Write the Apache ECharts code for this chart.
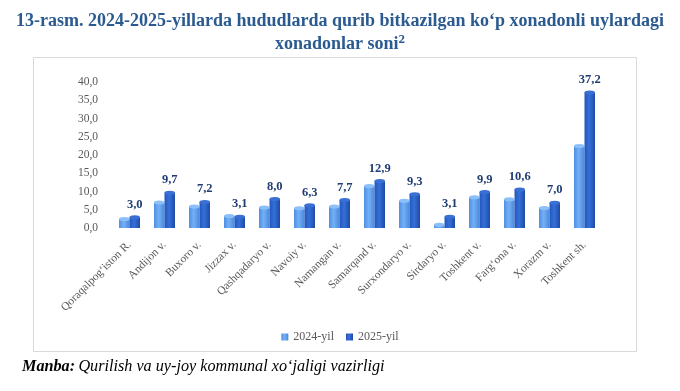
<!DOCTYPE html>
<html>
<head>
<meta charset="utf-8">
<script src="https://cdn.jsdelivr.net/npm/echarts@6/dist/echarts.min.js"></script>
<style>html,body{margin:0;padding:0;background:#fff;}#c{width:680px;height:391px;}</style>
</head>
<body>
<div id="c"></div>
<script>
const categories = ["Qoraqalpog‘iston R.", "Andijon v.", "Buxoro v.", "Jizzax v.", "Qashqadaryo v.", "Navoiy v.", "Namangan v.", "Samarqand v.", "Surxondaryo v.", "Sirdaryo v.", "Toshkent v.", "Farg‘ona v.", "Xorazm v.", "Toshkent sh."];
const v2024 = [2.5, 7.0, 5.9, 3.3, 5.6, 5.4, 5.9, 11.5, 7.5, 0.9, 8.4, 7.9, 5.5, 22.5];
const v2025 = [3.0, 9.7, 7.2, 3.1, 8.0, 6.3, 7.7, 12.9, 9.3, 3.1, 9.9, 10.6, 7.0, 37.2];
const seriesNames = ["2024-yil", "2025-yil"];
const titleLine1 = "13-rasm. 2024-2025-yillarda hududlarda qurib bitkazilgan ko‘p xonadonli uylardagi";
const titleLine2 = "xonadonlar soni";
const sourceLabel = "Manba:";
const sourceText = "Qurilish va uy-joy kommunal xo‘jaligi vazirligi";

const serif = '"Liberation Serif", "DejaVu Serif", serif';
const fmt = v => v.toFixed(1).replace('.', ',');

function cyl(c1, c2, c3) {
  return new echarts.graphic.LinearGradient(0, 0, 1, 0, [
    {offset: 0, color: c1}, {offset: 0.45, color: c2}, {offset: 1, color: c3}
  ]);
}
const col24 = cyl('#4f8fe0', '#74b0f7', '#4a88da');
const col25 = cyl('#2456bd', '#3470d8', '#1f4aa6');

const chart = echarts.init(document.getElementById('c'), null, {renderer: 'canvas'});
const BW = 10.5;
chart.setOption({
  animation: false,
  backgroundColor: '#fff',
  title: {
    text: titleLine1 + '\n' + titleLine2 + '{sup|2}',
    left: 'center',
    top: 5,
    textStyle: {
      fontFamily: serif, fontWeight: 'bold', fontSize: 18, color: '#2a5a90', lineHeight: 23,
      rich: { sup: { fontFamily: serif, fontWeight: 'bold', fontSize: 13, color: '#2a5a90', verticalAlign: 'top', lineHeight: 23, padding: [0, 0, 5, 0] } }
    }
  },
  graphic: [
    { type: 'rect', shape: {x: 33.5, y: 57.5, width: 603, height: 294}, style: {fill: 'none', stroke: '#d9d9d9', lineWidth: 1}, z: -1 },
    { type: 'text', left: 22, top: 359, style: {
        text: '{b|' + sourceLabel + '} {i|' + sourceText + '}',
        rich: {
          b: { fontFamily: serif, fontWeight: 'bold', fontStyle: 'italic', fontSize: 16.2, fill: '#000' },
          i: { fontFamily: serif, fontStyle: 'italic', fontSize: 16.2, fill: '#000' }
        }
      } }
  ],
  legend: {
    data: seriesNames,
    top: 326, left: 'center',
    icon: 'rect', itemWidth: 7, itemHeight: 7, itemGap: 12,
    textStyle: { fontFamily: serif, fontSize: 12, color: '#595959' }
  },
  grid: { left: 112, right: 78, top: 82, bottom: 163 },
  xAxis: {
    type: 'category', data: categories,
    axisLine: {show: false}, axisTick: {show: false},
    axisLabel: { rotate: 45, interval: 0, margin: 15, fontFamily: serif, fontSize: 11.5, color: '#595959' }
  },
  yAxis: {
    type: 'value', min: 0, max: 40, interval: 5,
    splitLine: {show: false}, axisLine: {show: false}, axisTick: {show: false},
    axisLabel: { margin: 14, fontFamily: serif, fontSize: 11.5, color: '#595959', formatter: v => fmt(v) }
  },
  series: [
    { name: seriesNames[0], type: 'bar', data: v2024, barWidth: BW, barGap: '0%',
      itemStyle: { color: col24 }, z: 2 },
    { name: seriesNames[1], type: 'bar', data: v2025, barWidth: BW, barGap: '0%',
      itemStyle: { color: col25 }, z: 2,
      label: { show: true, position: 'top', distance: 6, fontFamily: serif, fontWeight: 'bold', fontSize: 12.5, color: '#1f3d73', formatter: p => fmt(p.value) } },
    { name: 'cap24', type: 'pictorialBar', data: v2024, symbol: 'circle', symbolSize: [BW, 4],
      symbolPosition: 'end', symbolOffset: [0, '-50%'], barWidth: BW, barGap: '0%',
      itemStyle: { color: '#8cc0f8' }, z: 3, silent: true },
    { name: 'cap25', type: 'pictorialBar', data: v2025, symbol: 'circle', symbolSize: [BW, 4],
      symbolPosition: 'end', symbolOffset: [0, '-50%'], barWidth: BW, barGap: '0%',
      itemStyle: { color: '#3a6fd4', borderColor: '#1f4aa6', borderWidth: 0.6 }, z: 3, silent: true }
  ]
});
</script>
</body>
</html>
